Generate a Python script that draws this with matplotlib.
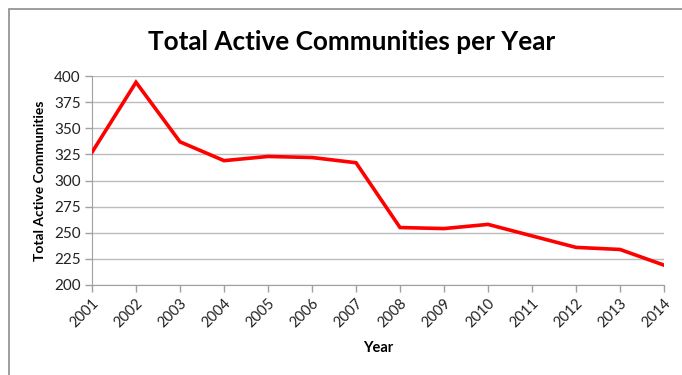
import matplotlib.pyplot as plt
from matplotlib.patches import Rectangle

# data
years = ["2001", "2002", "2003", "2004", "2005", "2006", "2007",
         "2008", "2009", "2010", "2011", "2012", "2013", "2014"]
communities = [327, 394, 337, 319, 323, 322, 317,
               255, 254, 258, 247, 236, 234, 219]
y_ticks = [200, 225, 250, 275, 300, 325, 350, 375, 400]

plt.rcParams['font.family'] = ['Lato', 'DejaVu Sans']

fig = plt.figure(figsize=(6.82, 3.75), dpi=100)
ax = fig.add_axes([92 / 682, 1 - 285 / 375, (664 - 92) / 682, (285 - 76) / 375])

# chart frame (top and left edges visible, rest runs off the image)
fig.patches.append(Rectangle((9 / 682, -0.1), 1.2, (375 - 9) / 375 + 0.1,
                             transform=fig.transFigure, fill=False,
                             edgecolor="#8c8c8c", lw=1.2))

x = list(range(len(years)))
ax.plot(x, communities, color="#ff0000", lw=2.6, solid_joinstyle="miter", zorder=3)

ax.set_xlim(0, len(years) - 1)
ax.set_ylim(200, 400)
ax.set_xticks(x)
ax.set_xticklabels(years, rotation=45, ha="right", rotation_mode="anchor", fontsize=10.5)
ax.set_yticks(y_ticks)
ax.set_yticklabels([str(v) for v in y_ticks], fontsize=11)

ax.grid(axis="y", color="#bcbcbc", lw=1.0)
ax.set_axisbelow(True)
for s in ["top", "right"]:
    ax.spines[s].set_visible(False)
for s in ["left", "bottom"]:
    ax.spines[s].set_color("#a0a0a0")
ax.tick_params(axis="both", colors="#a0a0a0", labelcolor="#222222", length=5, width=1)
ax.tick_params(axis="x", pad=3)
ax.tick_params(axis="y", pad=3)

ax.set_xlabel("Year", fontsize=10.5, fontweight="bold", labelpad=8)
ax.set_ylabel("Total Active Communities", fontsize=10, fontweight="bold", labelpad=6)

fig.text(0.515, 1 - 42 / 375, "Total Active Communities per Year",
         ha="center", va="center", fontsize=18.8, fontweight="bold")

fig.savefig("out.png", dpi=100)
